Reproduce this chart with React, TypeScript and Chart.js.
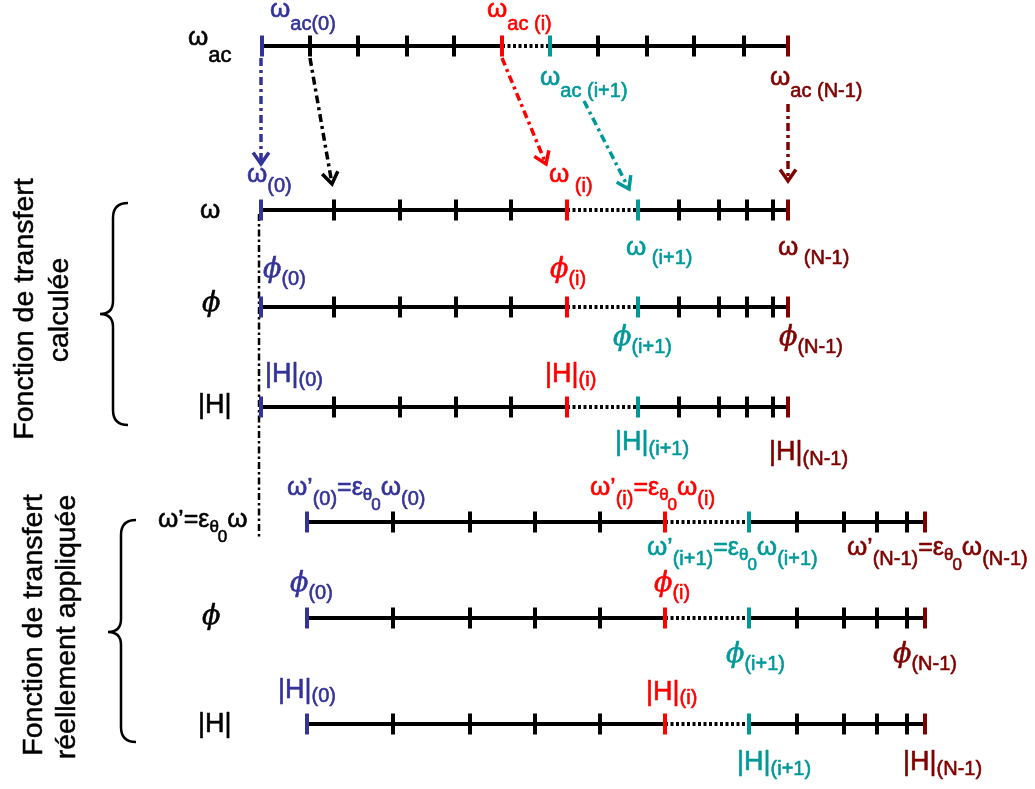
import React, { useEffect, useRef } from "react";
import { Chart, registerables } from "chart.js";
Chart.register(...registerables);

const W = 1035;
const H = 789;
const FONT = '"Liberation Sans", Arial, sans-serif';
const PHI_FONT = '"DejaVu Serif", serif';

// ---- data: tick positions along each frequency axis ----
const acTicks = [262, 310, 358, 407, 454, 502, 550, 598, 647, 694, 744, 788];
const calcTicks = [261, 334, 400, 456, 511, 567, 638, 679, 719, 747, 773, 788];
const appliedTicks = [307, 393, 470, 535, 600, 665, 749, 797, 844, 877, 907, 925];
const acRowY = [46];
const calcRowsY = [210, 307, 407];
const appliedRowsY = [522, 618, 724];
const iIndex = 5; // index of sample (i); (i+1) follows

const BLUE = "#333399";
const RED = "#ff0000";
const TEAL = "#009999";
const MAROON = "#800000";

const tickColor = (k: number, n: number) =>
  k === 0 ? BLUE : k === iIndex ? RED : k === iIndex + 1 ? TEAL : k === n - 1 ? MAROON : "#000";

// arrows (dash-dot) mapping omega_ac samples to omega samples
const arrows = [
  { color: BLUE, from: [261, 58], to: [261, 164] },
  { color: "#000", from: [310, 58], to: [332, 184] },
  { color: RED, from: [502, 58], to: [546, 164] },
  { color: TEAL, from: [584, 101], to: [629, 189] },
  { color: MAROON, from: [788, 104], to: [788, 181] },
];
const guide = { from: [259, 214], to: [259, 538] };

type Part = { t: string; s: number; dy?: number; it?: boolean; f?: string; gap?: number };
const OM = 26;
const SUB = 20;
const omAc = (sub: string, dy = 13): Part[] => [{ t: "ω", s: OM }, { t: "ac" + sub, s: SUB, dy }];
const om = (sub: string, dy = 10): Part[] => [{ t: "ω", s: OM }, { t: sub, s: SUB, dy }];
const ph = (sub: string, dy = 8): Part[] => [
  { t: "ϕ", s: 27, it: true, f: PHI_FONT, gap: 0 },
  { t: sub, s: SUB, dy },
];
const hh = (sub: string, dy = 4): Part[] => [{ t: "|H|", s: 27 }, { t: sub, s: SUB, dy }];
const eps = (): Part[] => [
  { t: "=", s: 25 },
  { t: "ε", s: 25 },
  { t: "θ", s: 17, dy: 5, gap: -1 },
  { t: "0", s: 17, dy: 15 },
];
const omP = (sub: string): Part[] => [
  { t: "ω", s: OM },
  { t: "’", s: 24 },
  { t: sub, s: SUB, dy: 10 },
  ...eps(),
  { t: "ω", s: OM },
  { t: sub, s: SUB, dy: 10 },
];

const labels: { x: number; y: number; c: string; p: Part[] }[] = [
  { x: 188, y: 45, c: "#000", p: [{ t: "ω", s: OM }, { t: "ac", s: 22, dy: 17 }] },
  { x: 270, y: 17, c: BLUE, p: omAc("(0)") },
  { x: 487, y: 17, c: RED, p: omAc(" (i)") },
  { x: 540, y: 85, c: TEAL, p: omAc(" (i+1)", 12) },
  { x: 770, y: 85, c: MAROON, p: omAc(" (N-1)", 12) },

  { x: 200, y: 218, c: "#000", p: [{ t: "ω", s: OM }] },
  { x: 247, y: 182, c: BLUE, p: om("(0)") },
  { x: 549, y: 182, c: RED, p: om(" (i)") },
  { x: 626, y: 255, c: TEAL, p: om(" (i+1)", 9) },
  { x: 778, y: 255, c: MAROON, p: om(" (N-1)", 9) },

  { x: 202, y: 311, c: "#000", p: [{ t: "ϕ", s: 27, it: true, f: PHI_FONT }] },
  { x: 263, y: 277, c: BLUE, p: ph("(0)") },
  { x: 550, y: 277, c: RED, p: ph("(i)") },
  { x: 613, y: 345, c: TEAL, p: ph("(i+1)") },
  { x: 779, y: 345, c: MAROON, p: ph("(N-1)") },

  { x: 198, y: 413, c: "#000", p: [{ t: "|H|", s: 27 }] },
  { x: 265, y: 382, c: BLUE, p: hh("(0)") },
  { x: 545, y: 382, c: RED, p: hh("(i)") },
  { x: 615, y: 450, c: TEAL, p: hh("(i+1)", 5) },
  { x: 769, y: 460, c: MAROON, p: hh("(N-1)", 5) },

  {
    x: 158,
    y: 527,
    c: "#000",
    p: [{ t: "ω", s: OM }, { t: "’", s: 24 }, ...eps(), { t: "ω", s: OM }],
  },
  { x: 287, y: 495, c: BLUE, p: omP("(0)") },
  { x: 590, y: 495, c: RED, p: omP("(i)") },
  { x: 647, y: 555, c: TEAL, p: omP("(i+1)") },
  { x: 847, y: 555, c: MAROON, p: omP("(N-1)") },

  { x: 202, y: 624, c: "#000", p: [{ t: "ϕ", s: 27, it: true, f: PHI_FONT }] },
  { x: 290, y: 591, c: BLUE, p: ph("(0)") },
  { x: 654, y: 591, c: RED, p: ph("(i)") },
  { x: 726, y: 662, c: TEAL, p: ph("(i+1)") },
  { x: 893, y: 662, c: MAROON, p: ph("(N-1)") },

  { x: 198, y: 732, c: "#000", p: [{ t: "|H|", s: 27 }] },
  { x: 278, y: 698, c: BLUE, p: hh("(0)") },
  { x: 646, y: 700, c: RED, p: hh("(i)") },
  { x: 737, y: 770, c: TEAL, p: hh("(i+1)", 5) },
  { x: 903, y: 770, c: MAROON, p: hh("(N-1)", 5) },
];

const braces = [
  { xr: 128, xs: 113, xt: 100, top: 203, tip: 314, bottom: 425 },
  { xr: 136, xs: 121, xt: 108, top: 520, tip: 632, bottom: 742 },
];

const sideTitles = [
  { x: 33, y: 309, t: "Fonction de transfert" },
  { x: 68, y: 310, t: "calculée" },
  { x: 42, y: 625, t: "Fonction de transfert" },
  { x: 75, y: 627, t: "réellement appliquée" },
];

function axisDataset(ticks: number[], y: number) {
  return {
    data: ticks.map((x) => ({ x, y })),
    showLine: true,
    borderColor: "#000",
    borderWidth: 4,
    pointStyle: "line",
    pointRadius: 10.5,
    pointRotation: 90,
    pointBorderWidth: 4,
    pointBorderColor: ticks.map((_, k) => tickColor(k, ticks.length)),
    pointHoverRadius: 10.5,
    segment: {
      borderDash: (c: any) => (c.p0DataIndex === iIndex ? [3, 2.5] : undefined),
    },
    clip: false,
  };
}

function lineDataset(from: number[], to: number[], color: string, width: number, dash: number[]) {
  return {
    data: [
      { x: from[0], y: from[1] },
      { x: to[0], y: to[1] },
    ],
    showLine: true,
    borderColor: color,
    borderWidth: width,
    borderDash: dash,
    pointRadius: 0,
    pointHoverRadius: 0,
    clip: false,
  };
}

const overlay = {
  id: "overlay",
  afterDatasetsDraw(chart: any) {
    const ctx = chart.ctx as CanvasRenderingContext2D;
    const xs = chart.scales.x;
    const ys = chart.scales.y;
    const px = (v: number) => xs.getPixelForValue(v);
    const py = (v: number) => ys.getPixelForValue(v);
    ctx.save();
    // arrowheads
    for (const a of arrows) {
      const x1 = px(a.from[0]), y1 = py(a.from[1]);
      const x2 = px(a.to[0]), y2 = py(a.to[1]);
      const ang = Math.atan2(y2 - y1, x2 - x1);
      const L = 14, spread = 0.6;
      ctx.strokeStyle = a.color;
      ctx.lineWidth = 3.5;
      ctx.setLineDash([]);
      ctx.lineCap = "butt";
      ctx.beginPath();
      ctx.moveTo(x2 - L * Math.cos(ang - spread), y2 - L * Math.sin(ang - spread));
      ctx.lineTo(x2, y2);
      ctx.lineTo(x2 - L * Math.cos(ang + spread), y2 - L * Math.sin(ang + spread));
      ctx.stroke();
    }
    // braces
    ctx.strokeStyle = "#000";
    ctx.lineWidth = 2.5;
    for (const b of braces) {
      const xr = px(b.xr), xsd = px(b.xs), xt = px(b.xt);
      const top = py(b.top), tip = py(b.tip), bot = py(b.bottom);
      ctx.beginPath();
      ctx.moveTo(xr, top);
      ctx.quadraticCurveTo(xsd, top, xsd, top + 15);
      ctx.lineTo(xsd, tip - 13);
      ctx.quadraticCurveTo(xsd, tip, xt, tip);
      ctx.quadraticCurveTo(xsd, tip, xsd, tip + 13);
      ctx.lineTo(xsd, bot - 15);
      ctx.quadraticCurveTo(xsd, bot, xr, bot);
      ctx.stroke();
    }
    // labels
    ctx.textBaseline = "alphabetic";
    ctx.textAlign = "left";
    ctx.lineJoin = "round";
    for (const l of labels) {
      let cx = px(l.x);
      const by = py(l.y);
      ctx.fillStyle = l.c;
      ctx.strokeStyle = l.c;
      ctx.lineWidth = 0.6;
      for (const p of l.p) {
        ctx.font = `${p.it ? "italic " : ""}${p.s}px ${p.f || FONT}`;
        ctx.fillText(p.t, cx, by + (p.dy || 0));
        ctx.strokeText(p.t, cx, by + (p.dy || 0));
        cx += ctx.measureText(p.t).width + (p.gap || 0);
      }
    }
    // rotated side titles
    ctx.fillStyle = "#000";
    ctx.strokeStyle = "#000";
    ctx.lineWidth = 0.5;
    ctx.font = `28.5px ${FONT}`;
    ctx.textAlign = "center";
    for (const s of sideTitles) {
      ctx.save();
      ctx.translate(px(s.x), py(s.y));
      ctx.rotate(-Math.PI / 2);
      ctx.fillText(s.t, 0, 0);
      ctx.strokeText(s.t, 0, 0);
      ctx.restore();
    }
    ctx.restore();
  },
};

export default function App() {
  const ref = useRef<HTMLCanvasElement | null>(null);
  useEffect(() => {
    if (!ref.current) return;
    const datasets: any[] = [];
    acRowY.forEach((y) => datasets.push(axisDataset(acTicks, y)));
    calcRowsY.forEach((y) => datasets.push(axisDataset(calcTicks, y)));
    appliedRowsY.forEach((y) => datasets.push(axisDataset(appliedTicks, y)));
    arrows.forEach((a) => datasets.push(lineDataset(a.from, a.to, a.color, 3.5, [8, 4, 3, 4])));
    datasets.push(lineDataset(guide.from, guide.to, "#000", 2.5, [7, 3, 2.5, 3]));
    const chart = new Chart(ref.current, {
      type: "scatter",
      data: { datasets },
      options: {
        animation: false,
        responsive: false,
        events: [],
        layout: { padding: 0, autoPadding: false },
        plugins: { legend: { display: false }, tooltip: { enabled: false } },
        scales: {
          x: { type: "linear", min: 0, max: W, display: false },
          y: { type: "linear", min: 0, max: H, reverse: true, display: false },
        },
      },
      plugins: [overlay],
    } as any);
    return () => chart.destroy();
  }, []);
  return (
    <div style={{ position: "absolute", left: 0, top: 0, width: W, height: H, background: "#fff" }}>
      <canvas ref={ref} width={W} height={H} style={{ display: "block", width: W, height: H }} />
    </div>
  );
}
